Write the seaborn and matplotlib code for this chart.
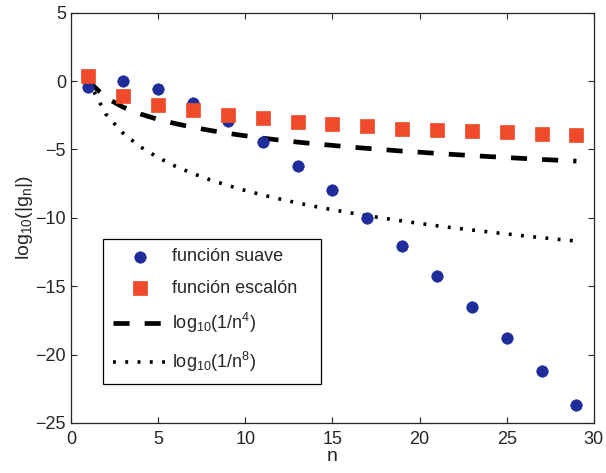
import matplotlib
matplotlib.use('Agg')
import matplotlib.pyplot as plt
import seaborn as sns
import pandas as pd

# Coefficients (odd n only)
n_odd = [1, 3, 5, 7, 9, 11, 13, 15, 17, 19, 21, 23, 25, 27, 29]
suave = [-0.42, 0.0, -0.58, -1.57, -2.94, -4.48, -6.19, -7.99, -9.99,
         -12.09, -14.25, -16.49, -18.82, -21.23, -23.71]
escalon = [0.38, -1.06, -1.73, -2.12, -2.50, -2.70, -2.99, -3.13, -3.28,
           -3.47, -3.56, -3.66, -3.75, -3.90, -3.95]

# Reference curves, read at integer n
n_all = list(range(1, 30))
ref_n4 = [0.0, -1.20, -1.91, -2.41, -2.80, -3.11, -3.38, -3.61, -3.82, -4.00,
          -4.17, -4.32, -4.46, -4.59, -4.70, -4.82, -4.92, -5.02, -5.12, -5.20,
          -5.29, -5.37, -5.45, -5.52, -5.59, -5.66, -5.73, -5.79, -5.85]
ref_n8 = [0.0, -2.41, -3.82, -4.82, -5.59, -6.23, -6.76, -7.23, -7.63, -8.00,
          -8.33, -8.63, -8.91, -9.17, -9.41, -9.63, -9.84, -10.04, -10.23, -10.41,
          -10.58, -10.74, -10.89, -11.04, -11.18, -11.32, -11.45, -11.58, -11.70]

BLUE = '#1f2d9b'
RED = '#ef4b2b'

sns.set_style('ticks')
plt.rcParams['font.family'] = ['Liberation Sans', 'DejaVu Sans']
plt.rcParams['mathtext.fontset'] = 'custom'
plt.rcParams['mathtext.rm'] = 'Liberation Sans'

pts = pd.DataFrame({'n': n_odd, 'suave': suave, 'escalon': escalon})
curves = pd.DataFrame({'n': n_all, 'n4': ref_n4, 'n8': ref_n8})

fig = plt.figure(figsize=(6.06, 4.73), dpi=100)
ax = fig.add_axes([0.117, 0.106, 0.863, 0.867])

sns.lineplot(data=curves, x='n', y='n4', ax=ax, color='black', linewidth=3.4,
             label=r'$\mathregular{log_{10}(1/n^4)}$', zorder=2)
ax.lines[-1].set_dashes([3.4, 3.2])
sns.lineplot(data=curves, x='n', y='n8', ax=ax, color='black', linewidth=2.6,
             label=r'$\mathregular{log_{10}(1/n^8)}$', zorder=2)
ax.lines[-1].set_dashes([0.8, 2.6])
sns.scatterplot(data=pts, x='n', y='suave', ax=ax, color=BLUE, marker='o',
                s=68, edgecolor=BLUE, linewidth=0.5, label='función suave', zorder=3)
sns.scatterplot(data=pts, x='n', y='escalon', ax=ax, color=RED, marker='s',
                s=110, edgecolor=RED, linewidth=0.5, label='función escalón', zorder=4)

ax.set_xlim(0, 30)
ax.set_ylim(-25, 5)
ax.set_xticks(range(0, 31, 5))
ax.set_yticks(range(-25, 6, 5))
ax.tick_params(direction='in', top=True, right=True, labelsize=13, length=4)
ax.tick_params(axis='x', pad=6)
for sp in ax.spines.values():
    sp.set_visible(True)
    sp.set_linewidth(0.9)
ax.set_xlabel('n', fontsize=14, labelpad=0)
ax.set_ylabel(r'$\mathregular{log_{10}(|g_n|)}$', fontsize=14, labelpad=0)

# Legend order as in reference: points first, then curves
handles, labels = ax.get_legend_handles_labels()
order = [2, 3, 0, 1]
leg = ax.legend([handles[i] for i in order], [labels[i] for i in order],
                loc='lower left', bbox_to_anchor=(0.061, 0.095, 0.417, 0.34),
                mode='expand', borderaxespad=0,
                fontsize=13, frameon=True, fancybox=False, edgecolor='black',
                framealpha=1, handlelength=3.0, labelspacing=0.8, borderpad=0.55,
                handletextpad=0.3)
leg.get_frame().set_linewidth(0.9)

fig.savefig('out.png', dpi=100)
